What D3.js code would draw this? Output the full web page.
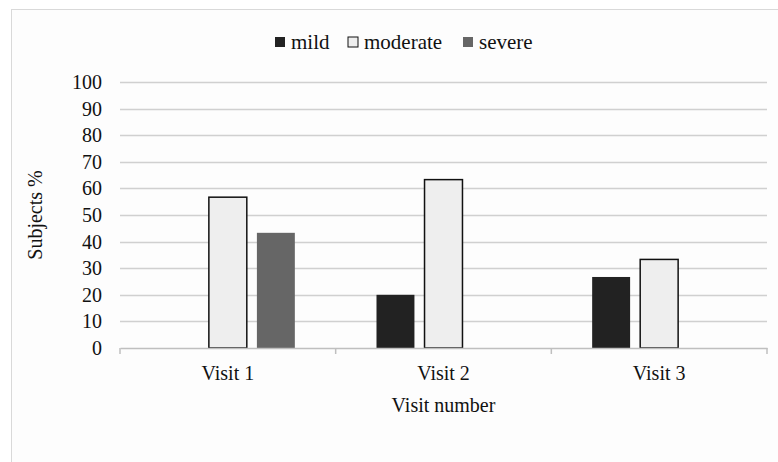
<!DOCTYPE html>
<meta charset="utf-8">
<script src="https://d3js.org/d3.v7.min.js"></script>
<style>
  body { margin: 0; background: #fff; }
  svg text { font-family: "Liberation Serif", "Times New Roman", serif; fill: #111; }
</style>
<div id="chart"></div>
<script>

// data
var visits = ["Visit 1", "Visit 2", "Visit 3"];
var severities = ["mild", "moderate", "severe"];
var mild = [0, 20, 26.7];
var moderate = [56.7, 63.3, 33.3];
var severe = [43.3, 0, 0];
var yTicks = [0, 10, 20, 30, 40, 50, 60, 70, 80, 90, 100];

var colors = { mild: "#222222", moderate: "#eeeeee", severe: "#666666" };
var strokes = { mild: "none", moderate: "#111", severe: "none" };
var serif = "'Liberation Serif', 'Times New Roman', serif";

var W = 778, H = 462;
var margin = {top: 82, right: 11, bottom: 114, left: 120},
    width = W - margin.left - margin.right,
    height = H - margin.top - margin.bottom;

var svgRoot = d3.select("#chart")
  .append("svg")
    .attr("width", W)
    .attr("height", H);

// chart border
svgRoot.append("rect")
  .attr("x", 11.5).attr("y", 9.5)
  .attr("width", W).attr("height", H)
  .attr("fill", "#fdfdfd")
  .attr("stroke", "#d9d9d9");

var svg = svgRoot.append("g")
  .attr("transform", "translate(" + margin.left + "," + margin.top + ")");

var x = d3.scaleBand()
  .domain(visits)
  .range([0, width]);

var xs = d3.scaleBand()
  .domain(severities)
  .range([0, x.bandwidth()])
  .paddingInner(0.21)
  .paddingOuter(0.85);

var y = d3.scaleLinear()
  .domain([0, 100])
  .range([height, 0]);

// gridlines
svg.append("g")
  .selectAll("line")
  .data(yTicks.slice(1))
  .enter()
  .append("line")
    .attr("x1", 0)
    .attr("x2", width)
    .attr("y1", function(d) { return Math.round(y(d)) + 0.5; })
    .attr("y2", function(d) { return Math.round(y(d)) + 0.5; })
    .attr("stroke", "#d0d0d0")
    .attr("stroke-width", 1.5);

// y labels
var yAxis = svg.append("g")
  .call(d3.axisLeft(y).tickValues(yTicks).tickSize(0).tickPadding(18));
yAxis.attr("font-family", null).attr("font-size", null);
yAxis.select(".domain").remove();
yAxis.selectAll("text")
  .style("font-family", serif)
  .style("font-size", "20px")
  .attr("fill", "#111");

// bars
var rows = visits.map(function(v, i) {
  return { visit: v, mild: mild[i], moderate: moderate[i], severe: severe[i] };
});

svg.append("g")
  .selectAll("g")
  .data(rows)
  .enter()
  .append("g")
    .attr("transform", function(d) { return "translate(" + x(d.visit) + ",0)"; })
  .selectAll("rect")
  .data(function(d) {
    return severities.map(function(s) { return {key: s, value: d[s]}; })
      .filter(function(e) { return e.value > 0; });
  })
  .enter()
  .append("rect")
    .attr("x", function(d) { return xs(d.key); })
    .attr("y", function(d) { return y(d.value); })
    .attr("width", xs.bandwidth())
    .attr("height", function(d) { return height - y(d.value); })
    .attr("fill", function(d) { return colors[d.key]; })
    .attr("stroke", function(d) { return strokes[d.key]; })
    .attr("stroke-width", 1.5);

// x axis
var xAxis = svg.append("g")
  .attr("transform", "translate(0," + height + ")")
  .call(d3.axisBottom(x).tickSize(0).tickPadding(18));
xAxis.attr("font-family", null).attr("font-size", null);
xAxis.select(".domain")
  .attr("stroke", "#bfbfbf")
  .attr("stroke-width", 1.5);
xAxis.selectAll("text")
  .style("font-family", serif)
  .style("font-size", "20px")
  .attr("fill", "#111");

// category separator ticks
svg.append("g")
  .selectAll("line")
  .data([0, 1, 2, 3])
  .enter()
  .append("line")
    .attr("x1", function(d) { return d * x.step(); })
    .attr("x2", function(d) { return d * x.step(); })
    .attr("y1", height)
    .attr("y2", height + 6)
    .attr("stroke", "#bfbfbf")
    .attr("stroke-width", 1.5);

// axis titles
svg.append("text")
  .attr("x", width / 2)
  .attr("y", height + 64)
  .attr("text-anchor", "middle")
  .style("font-family", serif)
  .style("font-size", "20px")
  .text("Visit number");

svg.append("text")
  .attr("transform", "rotate(-90)")
  .attr("x", -height / 2)
  .attr("y", -78)
  .attr("text-anchor", "middle")
  .style("font-family", serif)
  .style("font-size", "20px")
  .text("Subjects %");

// legend
var legendX = [275, 348, 463];
var legend = svgRoot.append("g");
severities.forEach(function(s, i) {
  legend.append("rect")
    .attr("x", legendX[i])
    .attr("y", 37)
    .attr("width", 10)
    .attr("height", 10)
    .attr("fill", colors[s])
    .attr("stroke", s == "moderate" ? "#111" : "none")
    .attr("stroke-width", 1);
  legend.append("text")
    .attr("x", legendX[i] + 16)
    .attr("y", 49)
    .style("font-family", serif)
    .style("font-size", "21px")
    .text(s);
});

</script>
